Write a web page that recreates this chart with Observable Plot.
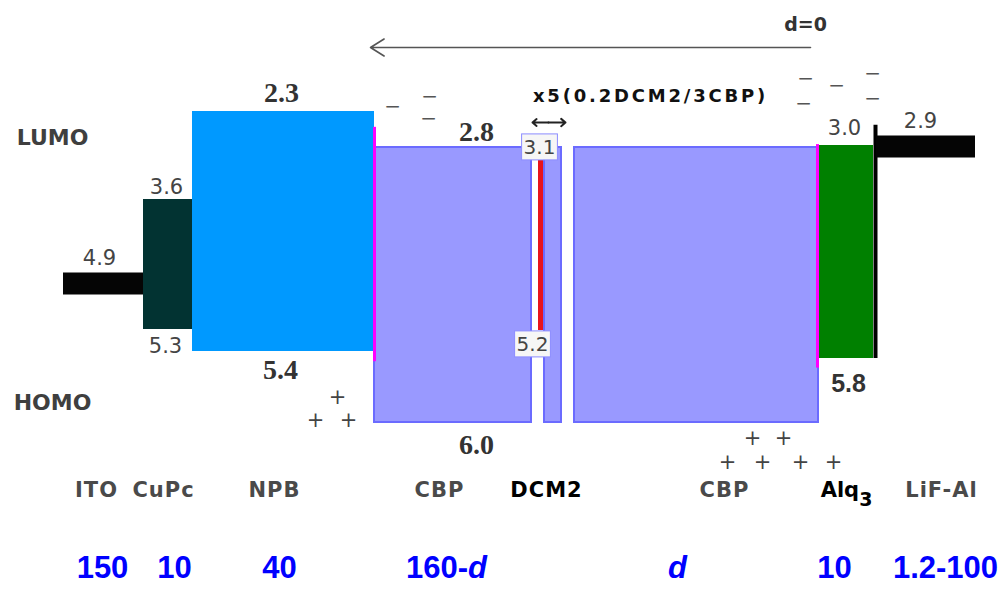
<!DOCTYPE html>
<html>
<head>
<meta charset="utf-8">
<script src="https://cdn.jsdelivr.net/npm/d3@7"></script>
<script src="https://cdn.jsdelivr.net/npm/@observablehq/plot@0.6"></script>
<style>
  html, body { margin: 0; padding: 0; background: #fff; }
  #chart svg { display: block; }
</style>
</head>
<body>
<div id="chart"></div>
<script>
// ---------------- data (energies in eV, thicknesses in nm) ----------------
const electrodes      = ["ITO", "LiF-Al"];
const workFunctions   = [4.9, 2.9];
const organics        = ["CuPc", "NPB", "CBP", "DCM2", "CBP", "CBP", "Alq3"];
const lumoLevels      = [3.6, 2.3, 2.8, 3.1, 2.8, 2.8, 3.0];
const homoLevels      = [5.3, 5.4, 6.0, 5.2, 6.0, 6.0, 5.8];
const layerLabels     = ["ITO", "CuPc", "NPB", "CBP", "DCM2", "CBP", "Alq3", "LiF-Al"];
const thicknessLabels = ["150", "10", "40", "160-d", "d", "10", "1.2-100"];
const sideLabels      = ["LUMO", "HOMO"];
const dopingLabel     = "x5(0.2DCM2/3CBP)";
const sweepLabel      = "d=0";

// ---------------- layout of the schematic (not data) ----------------
// the drawing is not to scale: a piecewise energy scale reproduces it
const energyKnots = [2.3, 2.8, 2.9, 3.0, 3.1, 3.6, 4.9, 5.2, 5.3, 5.4, 5.8, 6.0];
const energyPixels = [111, 147, 146, 145, 160, 199, 283, 330, 329, 351, 358, 422];
const electrodeSpans = [[63, 143], [876, 975]];
const organicSpans = [[143, 192], [192, 374], [374, 531], [538, 544], [544, 561], [574, 818], [818, 873]];
const organicFill = {CuPc: "#023332", NPB: "#0099ff", CBP: "#9999ff", DCM2: "#e8141c", Alq3: "#008000"};
const layerLabelX = [96, 163, 274, 439, 546, 724, 846, 941];
const thicknessX = [102, 174, 279, 446, 677, 834, 945];
const sideLabelPos = [2.661, 5.94];
const levelLabelSpec = [
  {layer: 0, level: "lumo", x: 166, dy: -12, style: "sans"},
  {layer: 0, level: "homo", x: 165, dy: 17, style: "sans"},
  {layer: 1, level: "lumo", x: 281, dy: -18, style: "serif"},
  {layer: 1, level: "homo", x: 280, dy: 19, style: "serif"},
  {layer: 2, level: "lumo", x: 476, dy: -15, style: "serif"},
  {layer: 2, level: "homo", x: 476, dy: 23, style: "serif"},
  {layer: 3, level: "lumo", x: 539, dy: -13, style: "box"},
  {layer: 3, level: "homo", x: 532, dy: 14, style: "box"},
  {layer: 6, level: "lumo", x: 844, dy: -17, style: "sans"},
  {layer: 6, level: "homo", x: 848, dy: 25, style: "sansBold"}
];
const electrodeLabelSpec = [{x: 99, dy: -25}, {x: 920, dy: -25}];
const interfaces = [
  {x: 374, from: 2.52, to: 5.81, color: "#ff00ff", w: 3},
  {x: 817, from: 2.76, to: 5.83, color: "#ff00ff", w: 3},
  {x: 875, from: 2.49, to: 5.8, color: "#000000", w: 4}
];
const sweepArrow = {from: 810, to: 370, level: 1.411};
const sweepLabelPos = {x: 805, level: 1.092};
const dopingLabelPos = {x: 650, level: 2.092};
const dopingArrows = [{from: 548, to: 532, level: 2.453}, {from: 548, to: 565, level: 2.453}];
const electronPos = [[392, 2.231], [429, 2.092], [428, 2.397], [805, 1.842], [803, 2.189], [836, 1.939], [872, 1.772], [872, 2.119]];
const holePos = [[337, 5.922], [315, 5.994], [348, 5.994], [752, 6.05], [783, 6.05], [727, 6.125], [762, 6.125], [800, 6.125], [833, 6.125]];

// ---------------- tables built from the arrays ----------------
const organicRows = organics.map((name, i) => ({
  name, lumo: lumoLevels[i], homo: homoLevels[i], x1: organicSpans[i][0], x2: organicSpans[i][1]
}));
const electrodeRows = electrodes.map((name, i) => ({
  name, wf: workFunctions[i], x1: electrodeSpans[i][0], x2: electrodeSpans[i][1],
  lx: electrodeLabelSpec[i].x, dy: electrodeLabelSpec[i].dy
}));
const levelRows = levelLabelSpec.map(s => {
  const v = s.level === "lumo" ? lumoLevels[s.layer] : homoLevels[s.layer];
  return {...s, value: v, text: v.toFixed(1)};
});
const labelRows = layerLabels.map((t, i) => ({text: t, x: layerLabelX[i],
  color: (t === "DCM2" || t === "Alq3") ? "#000000" : "#4a4a4a"}));
const thickRows = thicknessLabels.map((t, i) => ({text: t, x: thicknessX[i]}));

const SANS = "DejaVu Sans, Verdana, sans-serif";
const levelFonts = {
  serif: {fontFamily: "Liberation Serif, Times New Roman, serif", fontWeight: "bold", fontSize: 28, fill: "#333"},
  sans: {fontFamily: SANS, fontSize: 21, fill: "#444"},
  sansBold: {fontFamily: "Liberation Sans, Arial, sans-serif", fontWeight: "bold", fontSize: 25, fill: "#333"},
  box: {fontFamily: SANS, fontSize: 20, fill: "#444"}
};

const svg = Plot.plot({
  width: 1002,
  height: 592,
  margin: 0,
  style: {background: "#ffffff"},
  x: {type: "linear", domain: [0, 1002], range: [0, 1002], axis: null},
  y: {type: "linear", domain: energyKnots, range: energyPixels, axis: null},
  color: {type: "identity"},
  marks: [
    // organic layers
    Plot.rect(organicRows, {
      x1: "x1", x2: "x2", y1: "lumo", y2: "homo",
      fill: d => organicFill[d.name],
      stroke: d => d.name === "CBP" ? "#6b6bff" : "none",
      strokeWidth: 2
    }),
    // interface lines
    Plot.ruleX(interfaces, {x: "x", y1: "from", y2: "to", stroke: "color", strokeWidth: d => d.w}),
    // electrode work functions
    Plot.ruleY(electrodeRows, {y: "wf", x1: "x1", x2: "x2", stroke: "#050505", strokeWidth: 22}),
    // sweep arrow
    Plot.arrow([sweepArrow], {x1: "from", x2: "to", y1: "level", y2: "level",
      stroke: "#555", strokeWidth: 1.6, headLength: 15, headAngle: 64}),
    Plot.text([sweepLabel], {x: sweepLabelPos.x, y: sweepLabelPos.level, text: d => d,
      fontFamily: SANS, fontWeight: "bold", fontSize: 19, fill: "#333"}),
    // doping label + double arrow
    Plot.text([dopingLabel], {x: dopingLabelPos.x, y: dopingLabelPos.level, text: d => d,
      fontFamily: SANS, fontWeight: "bold", fontSize: 18, fill: "#111"}),
    Plot.arrow(dopingArrows, {x1: "from", x2: "to", y1: "level", y2: "level",
      stroke: "#222", strokeWidth: 2, headLength: 7, headAngle: 80}),
    // charges
    Plot.text(electronPos, {x: d => d[0], y: d => d[1], text: () => "\u2212",
      fontFamily: SANS, fontSize: 20, fill: "#555"}),
    Plot.text(holePos, {x: d => d[0], y: d => d[1], text: () => "+",
      fontFamily: SANS, fontSize: 21, fill: "#444"}),
    // LUMO / HOMO
    Plot.text(sideLabels, {x: 52, y: (d, i) => sideLabelPos[i], text: d => d,
      fontFamily: SANS, fontWeight: "bold", fontSize: 22, fill: "#3f3f3f"}),
    // level values (one mark per label: each has its own offset)
    ...levelRows.map(r => Plot.text([r], {x: "x", y: "value", text: "text", dy: r.dy, ...levelFonts[r.style]})),
    ...electrodeRows.map(r => Plot.text([r], {x: "lx", y: "wf", text: d => d.wf.toFixed(1),
      dy: r.dy, fontFamily: SANS, fontSize: 21, fill: "#444"})),
    // layer names
    Plot.text(labelRows, {x: "x", text: "text", fill: "color", frameAnchor: "bottom", dy: -96,
      fontFamily: SANS, fontWeight: "bold", fontSize: 21}),
    // thicknesses
    Plot.text(thickRows, {x: "x", text: "text", frameAnchor: "bottom", dy: -15,
      fontFamily: "Liberation Sans, Arial, sans-serif", fontWeight: "bold", fontSize: 31, fill: "#0000ff"})
  ]
});

document.getElementById("chart").append(svg);

// typographic touches: italic d, subscript 3, boxed level values, letter spacing
d3.select(svg).selectAll("text").each(function () {
  const t = this.textContent;
  const sel = d3.select(this);
  if (t === "160-d") {
    sel.text(null);
    sel.append("tspan").text("160-");
    sel.append("tspan").attr("font-style", "italic").text("d");
  } else if (t === "d") {
    sel.attr("font-style", "italic");
  } else if (t === "Alq3") {
    sel.text(null);
    sel.append("tspan").text("Alq");
    sel.append("tspan").attr("dy", 9).attr("font-size", 19).text("3");
  } else if (t === dopingLabel) {
    sel.attr("letter-spacing", "2.8px");
  } else if (layerLabels.includes(t)) {
    sel.attr("letter-spacing", "1px");
  }
});
d3.select(svg).selectAll("text").each(function () {
  const t = this.textContent;
  if (t === "3.1" || t === "5.2") {
    const b = this.getBBox();
    const r = document.createElementNS("http://www.w3.org/2000/svg", "rect");
    r.setAttribute("x", b.x - 2);
    r.setAttribute("y", b.y - 1);
    r.setAttribute("width", b.width + 4);
    r.setAttribute("height", b.height + 2);
    r.setAttribute("fill", "#f6f6f6");
    r.setAttribute("stroke", "#8c8cff");
    r.setAttribute("stroke-width", "1");
    const tr = this.getAttribute("transform");
    if (tr) r.setAttribute("transform", tr);
    this.parentNode.insertBefore(r, this);
  }
});
</script>
</body>
</html>
